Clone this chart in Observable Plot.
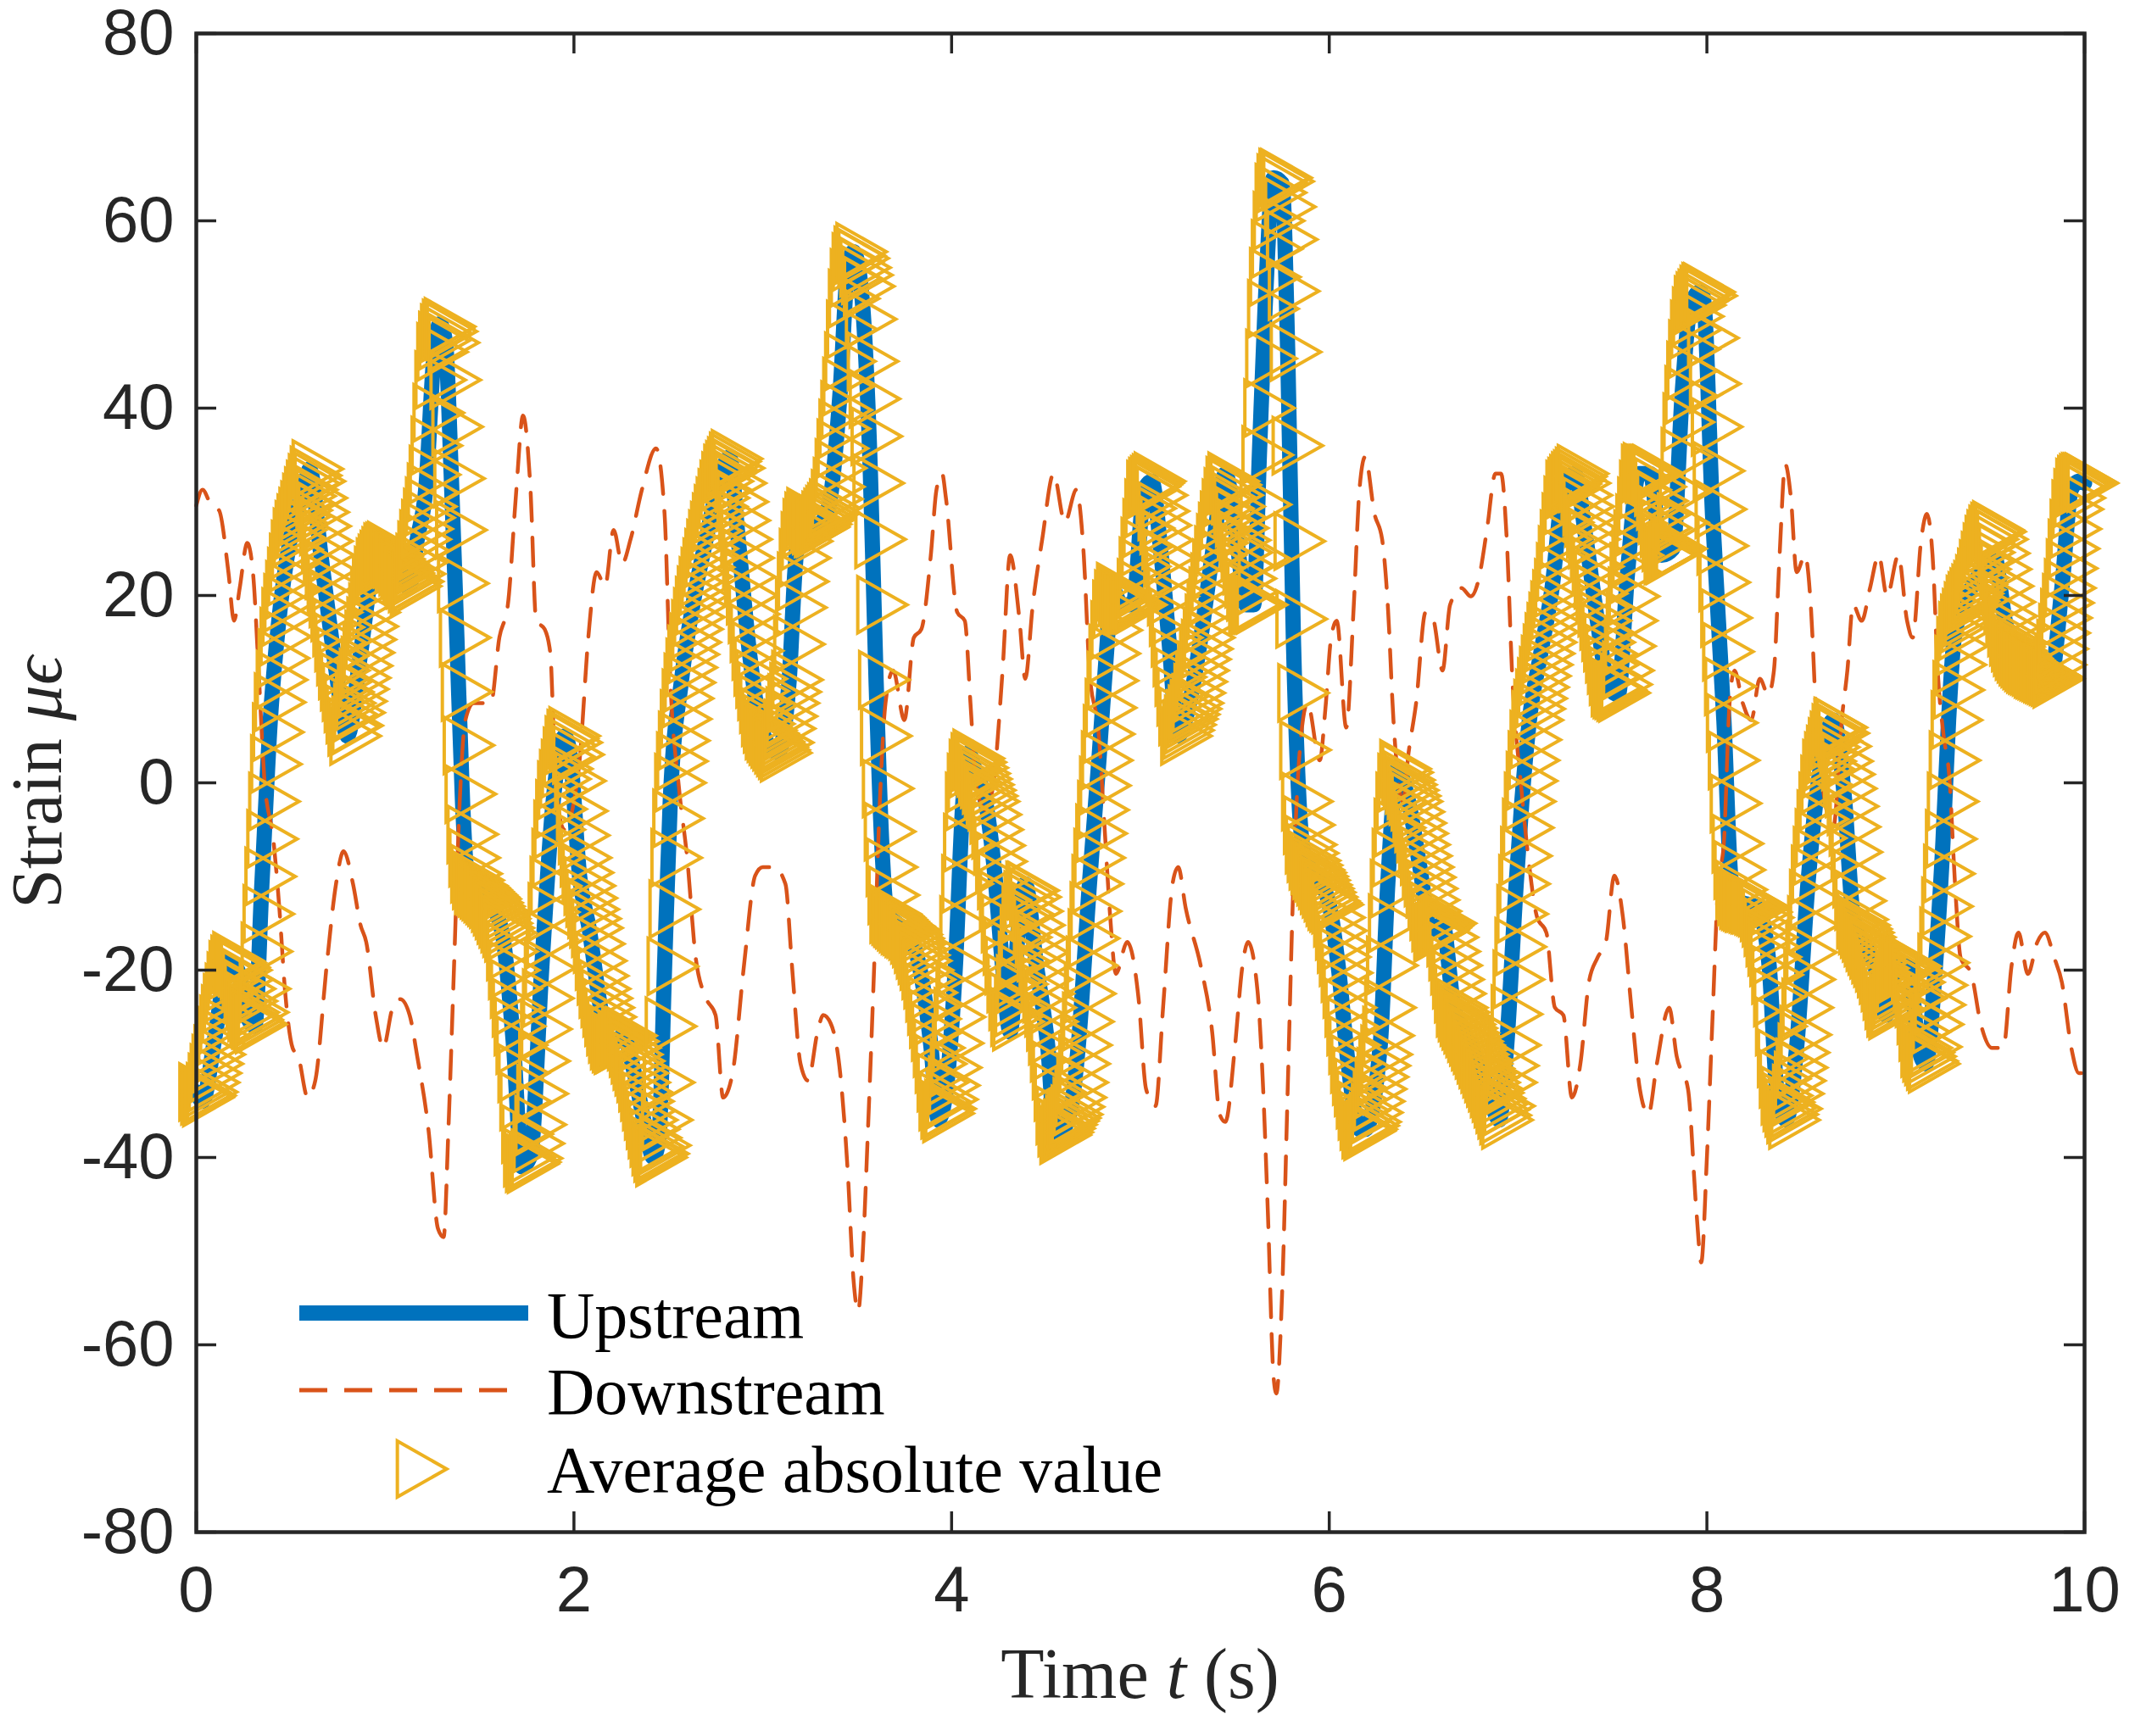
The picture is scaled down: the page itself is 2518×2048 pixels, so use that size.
<!DOCTYPE html>
<html>
<head>
<meta charset="utf-8">
<script src="https://cdn.jsdelivr.net/npm/d3@7"></script>
<script src="https://cdn.jsdelivr.net/npm/@observablehq/plot@0.6"></script>
<style>
  html, body { margin: 0; padding: 0; background: #ffffff; }
  #chart svg { display: block; overflow: visible; }
</style>
</head>
<body>
<div id="chart"></div>
<script>
// ---------------- data ----------------
const xTicks = [0, 2, 4, 6, 8, 10];
const yTicks = [-80, -60, -40, -20, 0, 20, 40, 60, 80];
const seriesNames = ["Upstream", "Downstream", "Average absolute value"];

// Upstream strain (time s, value)
const upT = [0,0.033,0.10,0.17,0.22,0.27,0.31,0.347,0.392,0.437,0.497,0.57,0.60,0.66,0.74,0.80,0.87,0.93,0.99,1.05,1.126,1.17,1.215,1.26,1.29,1.32,1.35,1.38,1.41,1.43,1.455,1.545,1.62,1.68,1.725,1.77,1.83,1.89,1.95,1.98,2.03,2.08,2.15,2.2,2.26,2.32,2.38,2.42,2.45,2.48,2.51,2.57,2.63,2.70,2.78,2.824,2.87,2.93,2.99,3.08,3.14,3.17,3.21,3.27,3.35,3.41,3.45,3.48,3.52,3.57,3.60,3.63,3.66,3.71,3.77,3.83,3.89,3.93,3.97,4.02,4.06,4.09,4.13,4.18,4.23,4.27,4.31,4.36,4.39,4.45,4.51,4.55,4.63,4.67,4.73,4.78,4.82,4.85,4.90,4.96,5.02,5.06,5.11,5.15,5.20,5.26,5.32,5.38,5.45,5.51,5.56,5.60,5.63,5.66,5.705,5.75,5.78,5.81,5.84,5.87,5.93,6.00,6.05,6.10,6.16,6.19,6.27,6.31,6.36,6.42,6.48,6.54,6.60,6.66,6.75,6.83,6.90,6.94,6.99,7.02,7.06,7.12,7.18,7.24,7.30,7.36,7.42,7.48,7.53,7.58,7.64,7.70,7.76,7.82,7.87,7.91,7.96,7.98,8.03,8.09,8.13,8.16,8.27,8.33,8.37,8.42,8.475,8.535,8.60,8.67,8.73,8.775,8.83,8.89,8.95,9.01,9.07,9.12,9.16,9.21,9.25,9.28,9.31,9.36,9.45,9.52,9.58,9.63,9.73,9.82,9.88,9.93,9.97,10.0];
const upV = [-33,-34,-27,-19,-20,-25,-26,-11,6.7,17.3,26,31.3,33.5,24.3,12,5,13.8,22.5,25,23.4,20.8,26,31.3,46,49,47,33,15.5,-2,-9,-10.8,-12.5,-16,-28,-41,-39.8,-19.6,-2,5,3,-10,-15.5,-25,-28,-27,-31,-37,-40,-38,-19.6,-2,11,19,26,33,34.8,26,13.8,5.9,3.2,11,22.5,28.7,27,29.6,41.8,55,56.7,53,33,11,-6.4,-14,-15,-16,-19.6,-28,-36,-33,-19.6,-2,3.2,1,-2,-10,-19.6,-26.6,-14,-10.8,-19.6,-28.3,-38,-35,-28.3,-10.8,2.4,13.8,20.8,19,19,31.3,32.2,24.3,15.5,5,8.5,15.5,24.3,33,26,19,19,35,50.6,64.6,64,46,15.5,-2,-8,-10,-13,-20,-30,-37,-37,-28,-10.8,1.5,-2,-9,-16,-15,-24,-28,-32,-36,-28,-10.8,-2,6.7,13.8,20.8,31.3,33,26,17.3,10.2,9.4,22.5,33,33,24.3,25,41.8,50.6,52.4,52,28.6,6.7,-10.8,-12.5,-13.4,-19.6,-32.7,-36,-28.3,-10.8,1.5,6.7,-2,-14.3,-17,-19.6,-24.8,-19.6,-19.6,-28.3,-30,-19.6,-6.4,6.7,15.5,19,22.5,24.3,17.3,13.8,12,11.1,20.8,31.3,32.2,32];

// Downstream strain (time s, value)
const downT = [0,0.033,0.08,0.12,0.17,0.20,0.23,0.27,0.30,0.33,0.36,0.41,0.44,0.47,0.51,0.54,0.59,0.63,0.69,0.74,0.78,0.83,0.87,0.90,0.95,0.99,1.04,1.08,1.13,1.17,1.23,1.28,1.31,1.335,1.365,1.395,1.425,1.47,1.515,1.56,1.605,1.65,1.695,1.73,1.77,1.80,1.845,1.875,1.904,1.95,2.00,2.03,2.076,2.12,2.165,2.21,2.255,2.30,2.36,2.435,2.48,2.51,2.555,2.60,2.645,2.70,2.75,2.79,2.84,2.90,2.96,3.00,3.06,3.12,3.155,3.20,3.24,3.29,3.32,3.36,3.41,3.45,3.48,3.505,3.53,3.557,3.59,3.62,3.65,3.69,3.75,3.80,3.84,3.89,3.92,3.95,3.97,4.03,4.07,4.10,4.13,4.18,4.22,4.27,4.31,4.36,4.39,4.43,4.48,4.54,4.60,4.66,4.70,4.73,4.78,4.81,4.84,4.87,4.93,4.99,5.03,5.08,5.12,5.17,5.20,5.24,5.32,5.38,5.42,5.45,5.50,5.54,5.57,5.62,5.65,5.675,5.705,5.72,5.75,5.78,5.81,5.84,5.885,5.95,5.98,6.01,6.04,6.09,6.13,6.16,6.19,6.24,6.28,6.31,6.34,6.39,6.42,6.46,6.51,6.55,6.60,6.64,6.70,6.75,6.79,6.835,6.88,6.91,6.94,6.97,7.016,7.06,7.10,7.15,7.195,7.24,7.285,7.33,7.375,7.42,7.465,7.51,7.555,7.60,7.645,7.69,7.735,7.80,7.84,7.90,7.945,7.97,8.00,8.03,8.06,8.09,8.12,8.146,8.19,8.235,8.28,8.325,8.355,8.385,8.415,8.445,8.475,8.52,8.55,8.58,8.625,8.67,8.714,8.744,8.774,8.82,8.864,8.91,8.954,9.014,9.06,9.09,9.135,9.165,9.195,9.225,9.254,9.284,9.314,9.344,9.40,9.45,9.51,9.57,9.613,9.65,9.70,9.75,9.79,9.84,9.88,9.93,9.97,10.0];
const downV = [29.6,31.3,29.6,29.1,22.5,17.3,20.8,25.6,22.5,12,0.6,-6.4,-13.4,-22.2,-28.3,-29.2,-33.6,-31.8,-19.6,-10.8,-7.3,-10.8,-15.2,-17,-24.8,-28.3,-24,-23.1,-24.8,-29.2,-37.1,-47.6,-48.5,-37.1,-19.6,-2,6.7,8.5,8.5,8.5,15.5,19,31.3,39.2,31.3,17.3,16.4,13.8,-0.3,-5,-2,2.4,15.5,22.5,21,27,23.4,26,31.3,35.7,28.7,11,-0.3,-8.1,-18.7,-23,-24.8,-33.6,-31,-19.6,-9.9,-9,-9,-10.8,-19.6,-30,-31.8,-26.6,-24.8,-25.7,-31,-41.5,-52.9,-56.4,-50,-37.1,-19.6,-2,8.5,12,6.7,15.5,16.4,24.3,31.3,33,30.4,18.2,17.3,8.5,-0.3,-2.9,-0.3,12,24.3,17.3,11.1,19,26,33,27.8,31.3,24.3,12,5,-4.7,-14.3,-20.4,-17,-23,-32.7,-34.5,-24,-10.8,-9,-13.4,-19.6,-26.6,-35.4,-36.2,-28.3,-19.6,-17,-22.2,-32.7,-45.9,-63.4,-65.2,-54.7,-32.7,-10.8,2.4,8.5,2.4,8,15.5,17.3,5.9,19,31.3,34.8,28.7,26,19,6.7,-2,3.2,8.5,18.2,17.5,12,19,20.8,19.9,21.6,27,33,33,26,11,-0.3,-9,-14.3,-16,-24,-24.8,-33.6,-30,-21.3,-18.7,-17,-9.9,-14.3,-24,-32.7,-35.4,-30,-24,-29.2,-32.7,-45.9,-51.2,-40,-25,-10.8,-6.4,8.5,12,8.5,6.7,11.1,9.4,12,24.3,34,30.4,22.5,24.3,19,6.7,-2,-4.7,6.7,12,19,17.3,20.8,24.3,19.9,24.3,17.3,15.5,26,28.7,24.3,11.1,5,0.6,-10.8,-18.7,-20.4,-25.7,-28.3,-28.3,-19.6,-16,-20.4,-17,-16,-18.7,-21.3,-28.3,-31,-31];

// Average absolute value markers: one sample every 0.01 s from t = 0 to t = 10 (one row = 0.1 s)
const avgStart = 0, avgStep = 0.01;
const avgV = [
-33,-33.4,-33.6,-33.4,-33,-32,-31,-30,-29,-28,
-27,-25.8,-24.7,-23.5,-22.4,-21.2,-20,-19.4,-19,-19.2,
-19.5,-19.7,-20,-21,-22,-23.3,-24.5,-25,-25.3,-25.6,
-25.8,-24.5,-22,-18,-14,-10,-6,-2,2,5.4,
8.6,11,13.3,15.6,17.7,19.2,20.6,22,23.5,24.9,
26.2,27,27.7,28.4,29.1,29.9,30.6,31.3,32,32.8,
33.5,32.2,30.4,28.9,27.4,25.8,24.3,22.7,21.2,19.7,
18.2,16.6,15,13.5,12,10.8,9.7,8.5,7.3,6,
5,6.1,7.5,8.7,10,11.2,12.5,13.9,15.3,16.7,
18.2,19.6,21,22.1,23,23.4,23.8,24.2,24.6,24.7,
24.8,24.5,24.2,23.9,23.6,23.4,23.1,22.8,22.4,22.1,
21.7,21.3,21,21.5,22.3,23.5,24.8,26,27.1,28.3,
29.5,31,32.9,36,39.5,43,46,47.2,48,48.5,
48.7,48.2,47,43,38,32.5,27,21.3,15.5,9.7,
4,-1.2,-5.5,-8,-9.7,-10.4,-10.9,-11,-11.2,-11.4,
-11.6,-11.8,-12,-12.2,-12.4,-12.8,-13.2,-13.6,-14.1,-14.5,
-15,-15.5,-16,-18,-20,-22,-24,-26,-28,-31,
-34,-37.5,-40,-40.6,-40.7,-40.5,-40.1,-38.5,-36.5,-33.2,
-29.7,-26.3,-23,-19.8,-16.7,-13.8,-11,-8,-5,-2.8,
-0.8,0.4,1.5,2.8,4,4.7,5,4.3,3,0.2,
-3,-5.6,-8,-9.6,-11,-12.3,-13.5,-14.5,-15.5,-17.2,
-19,-20.6,-22,-23,-24,-25,-26,-26.8,-27.5,-27.8,
-28,-27.9,-27.7,-27.5,-27.3,-27.1,-27,-27.6,-28.3,-29,
-29.7,-30.3,-31,-32,-33,-34,-35,-36,-37,-37.9,
-38.8,-39.5,-40,-39.6,-38.7,-36,-32,-26,-19.6,-13.5,
-8,-3.8,0,2.3,4.5,6.8,9,10.7,12.3,13.7,
15,16.4,17.7,18.9,20,21,22,23,24,25,
26,26.9,27.8,28.7,29.5,30.4,31.3,32.2,33,33.4,
33.8,34.3,34.6,33.6,32,30,28,26,24,22,
20,18,16,14.1,12.4,11.1,9.8,8.4,7,6.3,
5.6,5.3,5,4.7,4.4,4.1,3.8,3.5,3.2,4.3,
5.8,7.1,8.5,9.7,11,14.8,18.7,21.5,24,25.8,
27.2,27.9,28.4,28.1,27.8,27.5,27.2,27.2,27.3,27.6,
28,28.3,28.6,28.9,29.3,30.3,31.6,33.6,35.7,37.8,
39.8,42.3,45,48.4,51.7,53.9,55.6,56.3,56.7,56,
55,54.2,53,49.5,45,41,37,32,26,19,
11,5,-0.6,-5.2,-9,-12,-14,-14.2,-14.4,-14.6,
-14.8,-15,-15.2,-15.3,-15.5,-15.6,-15.8,-16.2,-16.6,-17.2,
-17.8,-18.4,-19,-20,-21,-22.4,-23.8,-25.2,-26.6,-28.3,
-30,-32,-34,-34.9,-35.3,-34.8,-33.8,-32.3,-30.4,-27.8,
-25,-22.3,-19.6,-15.2,-10.8,-6.4,-2,0,1.5,2.2,
2.6,2.2,1.6,1,0.4,-0.2,-0.8,-1.4,-2,-3.4,
-5,-6.7,-8.4,-10.4,-12.5,-15,-17.4,-19.5,-21.4,-23.3,
-25,-25.5,-24,-21.5,-19,-16.5,-14,-12.5,-11.5,-11.5,
-12.2,-13.7,-15.2,-16.6,-18.1,-19.5,-21,-22.5,-24,-25.5,
-27,-28.8,-30.7,-33,-35.5,-36.8,-37.6,-37.3,-36.9,-36.5,
-36.1,-35.8,-35.4,-34.6,-33.6,-32,-30,-28,-25.5,-22.5,
-19.5,-16.6,-13.7,-10.8,-8,-5.4,-2.9,-0.3,2.4,5.2,
8,10.9,13.8,16.3,18.5,19.6,20.4,20.1,19.7,19.3,
19,19,19,19,19,19,19,20.8,23.1,25.2,
27.2,29.3,31.3,31.6,31.8,32,32.2,30.7,29,27.5,
25.9,24,22.1,19.9,17.7,15.5,13.4,11.3,9.2,7.1,
5,5.6,6.2,6.8,7.3,7.9,8.5,9.6,10.8,12,
13.2,14.3,15.5,17,18.4,19.9,21.4,22.9,24.3,25.6,
26.8,28,29.3,30.5,31.7,32.2,31.8,30.7,29.5,28.3,
27.2,25.9,24.6,23.2,21.8,20.4,19,18.9,19,19,
19,24,29.7,35,40,45.3,50.6,54,57,60,
63,64,64.6,64.6,64.2,61.5,58,52.5,46,36,
25.8,17.5,9.6,3.5,-2,-4.5,-6.6,-7.5,-8.3,-8.8,
-9.3,-9.6,-10,-10.4,-10.9,-11.3,-11.7,-12.2,-12.6,-12.8,
-13,-14.4,-15.8,-17.2,-18.6,-20.3,-22,-24,-26,-28,
-30,-31.3,-32.5,-33.8,-35,-36.1,-37,-37.2,-37,-36.6,
-36.2,-35.2,-34,-32.7,-31.4,-30.2,-29,-27,-24,-19.5,
-15,-11.3,-8,-4.8,-2,0,1.5,1.1,0.3,-0.2,
-0.8,-1.4,-2,-3.1,-4.3,-5.4,-6.6,-7.8,-9,-10.1,
-11.3,-12.5,-13.7,-14.9,-16,-15.9,-15.7,-15.5,-15.3,-15.1,
-15,-16.5,-18,-19.5,-21,-22.5,-24,-24.5,-25,-25.4,
-25.8,-26.2,-26.7,-27.1,-27.6,-28,-28.5,-29,-29.5,-30,
-30.5,-31,-31.5,-32,-32.6,-33.1,-33.7,-34.3,-34.9,-35.5,
-36,-34.5,-32,-30.2,-28,-24.7,-21,-17.5,-14,-10.8,
-7.8,-4.8,-2,0.2,2.4,4.6,6.7,7.9,9,10.2,
11.4,12.6,13.8,15,16.1,17.2,18.4,19.6,20.8,22.5,
24.3,26,27.8,29.6,31.3,31.6,31.9,32.2,32.4,32.7,
33,32,30.7,29.5,28.3,27.1,26,24.6,23.1,21.7,
20.2,18.7,17.3,16.1,15,13.8,12.6,11.4,10.2,10,
9.9,9.7,9.6,10.5,12,14.6,17.3,19.9,22.5,24.3,
26,27.7,29.5,31.3,33,33.2,33,33,33,33,
33,31.6,30.1,28.6,27.2,25.7,24.3,24.3,24.5,24.6,
24.8,24.9,25,27.8,31,34.8,38.5,41.4,44,46.3,
48.4,49.8,51,51.4,51.7,52.1,52.4,52.4,52,47.5,
42.6,38,33.3,29.2,25.3,21.4,17.6,14,10.3,6.4,
2.4,-2.2,-6.5,-9.3,-11.4,-12.1,-12.5,-12.6,-12.7,-12.8,
-12.8,-12.9,-13,-13,-13.1,-13.2,-13.3,-13.8,-14.4,-15.4,
-16.5,-17.5,-18.6,-20.5,-22.9,-26,-29.4,-31.6,-33.4,-34.1,
-34.7,-35.4,-36,-34.8,-33.2,-31.8,-30.4,-28.8,-26.9,-24,
-21,-18.1,-15.2,-12.4,-9.8,-7.8,-5.9,-3.9,-2,-0.2,
1.5,2.3,3,3.8,4.5,5.3,6,5.9,5.3,3.9,
2.3,0.9,-0.6,-2.5,-4.7,-7.4,-10.2,-12.6,-14.6,-15.2,
-15.6,-16,-16.5,-17,-17.4,-17.8,-18.3,-18.7,-19.2,-19.8,
-20.5,-21.3,-22.2,-23.2,-24,-24.3,-24,-23.2,-22.2,-21.3,
-20.4,-20,-19.6,-19.5,-19.6,-19.5,-19.6,-20.3,-21.3,-23,
-24.8,-26.6,-28.3,-28.8,-29.2,-29.7,-30,-28.2,-25.8,-23.7,
-21.6,-19.2,-16.4,-13.2,-9.7,-6,-2,2.4,6.7,9.9,
12.6,14.6,16.2,17,17.6,18.3,19,19.4,19.8,20.2,
20.6,21.2,21.9,22.8,23.7,24.6,25.4,26,26.5,26.8,
27,26.8,26,24.5,22.8,21,19.3,17.8,16.6,15.6,
15,14.5,14.1,13.8,13.5,13.3,13.1,12.9,12.7,12.6,
12.5,12.4,12.2,12.1,12,11.9,11.8,11.7,11.6,11.5,
11.4,11.3,11.1,12.6,14.3,16,17.6,19.2,20.8,22.9,
25,27.1,29.2,30.4,31.5,31.8,32,32.1,32.1,32.1,
32
];

// ---------------- styling ----------------
const C_UP = "#0072BD", C_DOWN = "#D95319", C_AVG = "#EDB120", C_AX = "#262626";
const SANS = "'Liberation Sans', Arial, Helvetica, sans-serif";
const SERIF = "'Liberation Serif', 'Times New Roman', 'DejaVu Serif', serif";

const W = 2518, H = 2048;
const mL = 231, mR = 60, mT = 39, mB = 241;
const fw = W - mL - mR, fh = H - mT - mB;
const TICK = 24;
const TRI_W = 4;

const up = upT.map((t, i) => ({t, v: upV[i]}));
const down = downT.map((t, i) => ({t, v: downV[i]}));
const avg = avgV.map((v, i) => ({t: +(avgStart + i * avgStep).toFixed(2), v}));

// right-pointing triangle, centroid at origin (MATLAB '>' marker)
const triRight = {
  draw(ctx, size) {
    const r = Math.sqrt(size / Math.PI);
    const h = 2 * r, w = 1.76 * r;
    ctx.moveTo(-w / 3, -h / 2);
    ctx.lineTo(2 * w / 3, 0);
    ctx.lineTo(-w / 3, h / 2);
    ctx.closePath();
  }
};

const chart = Plot.plot({
  width: W, height: H,
  marginLeft: mL, marginRight: mR, marginTop: mT, marginBottom: mB,
  style: {background: "#ffffff", overflow: "visible"},
  x: {domain: [0, 10]},
  y: {domain: [-80, 80]},
  marks: [
    Plot.line(up, {x: "t", y: "v", stroke: C_UP, strokeWidth: 18, curve: "monotone-x",
      strokeLinejoin: "round", strokeLinecap: "round"}),
    Plot.line(down, {x: "t", y: "v", stroke: C_DOWN, strokeWidth: 4.5, curve: "monotone-x",
      strokeDasharray: "33,20"}),
    Plot.dot(avg, {x: "t", y: "v", symbol: triRight, r: 33, stroke: C_AVG, fill: "none", strokeWidth: TRI_W}),
    // inward ticks on all four sides
    Plot.ruleX(xTicks, {x: d => d, insetTop: fh - TICK, stroke: C_AX, strokeWidth: 3.5}),
    Plot.ruleX(xTicks, {x: d => d, insetBottom: fh - TICK, stroke: C_AX, strokeWidth: 3.5}),
    Plot.ruleY(yTicks, {y: d => d, insetRight: fw - TICK, stroke: C_AX, strokeWidth: 3.5}),
    Plot.ruleY(yTicks, {y: d => d, insetLeft: fw - TICK, stroke: C_AX, strokeWidth: 3.5}),
    Plot.frame({stroke: C_AX, strokeWidth: 4.5}),
    Plot.axisX({ticks: xTicks, tickSize: 0, tickPadding: 40, label: null, tickFormat: d => String(d),
      fontSize: 76, fontFamily: SANS, fill: C_AX}),
    Plot.axisY({ticks: yTicks, tickSize: 0, tickPadding: 26, label: null, tickFormat: d => String(d),
      fontSize: 76, fontFamily: SANS, fill: C_AX})
  ]
});

document.getElementById("chart").appendChild(chart);

// ---------------- axis titles and legend ----------------
const svg = d3.select(chart.tagName.toLowerCase() === "svg" ? chart : chart.querySelector("svg"));

const xl = svg.append("text")
  .attr("x", mL + fw / 2).attr("y", 2003)
  .attr("text-anchor", "middle")
  .attr("font-family", SERIF).attr("font-size", 84).attr("fill", C_AX);
xl.append("tspan").text("Time ");
xl.append("tspan").attr("font-style", "italic").text("t");
xl.append("tspan").text(" (s)");

const yl = svg.append("text")
  .attr("transform", `translate(72,${mT + fh / 2}) rotate(-90)`)
  .attr("text-anchor", "middle")
  .attr("font-family", SERIF).attr("font-size", 84).attr("fill", C_AX);
yl.append("tspan").text("Strain ");
yl.append("tspan").attr("font-style", "italic").text("μϵ");

const lg = svg.append("g").attr("text-anchor", "start");
lg.append("line").attr("x1", 353).attr("x2", 623).attr("y1", 1549).attr("y2", 1549)
  .attr("stroke", C_UP).attr("stroke-width", 18);
lg.append("line").attr("x1", 353).attr("x2", 603).attr("y1", 1640).attr("y2", 1640)
  .attr("stroke", C_DOWN).attr("stroke-width", 5).attr("stroke-dasharray", "33,20");
lg.append("path").attr("transform", "translate(488,1733)")
  .attr("d", d3.symbol(triRight, 33 * 33 * Math.PI)())
  .attr("fill", "none").attr("stroke", C_AVG).attr("stroke-width", TRI_W);
const lgY = [1578, 1668, 1760];
seriesNames.forEach((name, i) => {
  lg.append("text").attr("x", 645).attr("y", lgY[i])
    .attr("text-anchor", "start")
    .attr("font-family", SERIF).attr("font-size", 78).attr("fill", "#000000")
    .text(name);
});
</script>
</body>
</html>
